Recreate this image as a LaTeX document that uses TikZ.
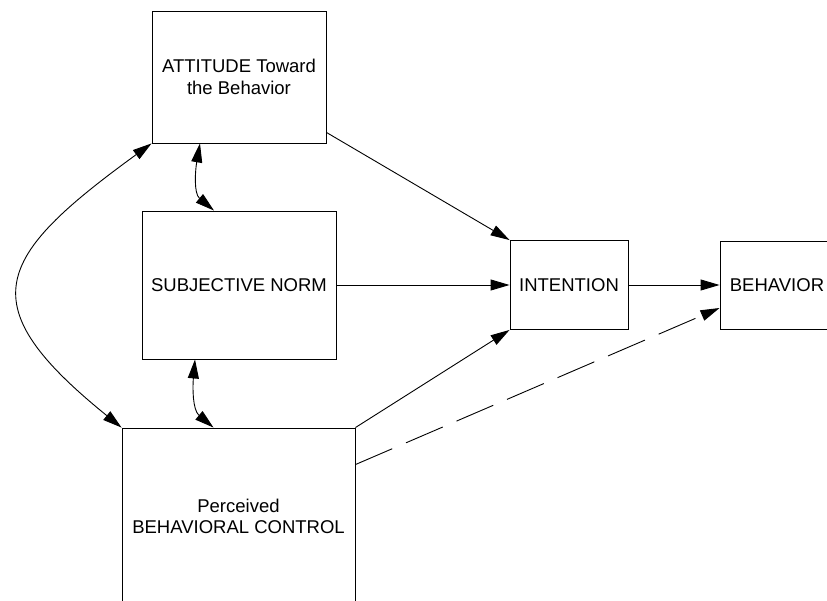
\documentclass[tikz,border=0pt]{standalone}
\usepackage{fontspec}
\setmainfont{Liberation Sans}
\usetikzlibrary{arrows.meta}

\begin{document}
\begin{tikzpicture}[x=1pt,y=1pt,>={Triangle[length=19pt,width=11pt]}]
            \useasboundingbox (0,0) rectangle (827,-601);
            \clip (0,0) rectangle (827,-601);
            \begin{scope}[every node/.style={rectangle,draw,line width=0.9pt,align=center,
                          font=\fontsize{18.5}{21.5}\selectfont}]
                \node (ATT) [minimum width=174pt, minimum height=132pt] at (239, -77) {ATTITUDE Toward\\the Behavior};
                \node (SN) [minimum width=194pt, minimum height=148pt] at (239, -285) {SUBJECTIVE NORM};
                \node (PBC) [minimum width=233pt, minimum height=177pt] at (238.5, -516.5) {Perceived\\BEHAVIORAL CONTROL};
                \node (INT) [minimum width=118pt, minimum height=89pt] at (569, -285) {INTENTION};
                \node (BEH) [minimum width=114pt, minimum height=88pt] at (777, -285) {BEHAVIOR};
            \end{scope}

            \begin{scope}[every edge/.style={draw=black,line width=0.9pt}]
                \path [->] ([yshift=11pt]ATT.south east) edge (INT.north west);
                \path [->] (SN.east) edge (INT.west);
                \path [->] (PBC.north east) edge (INT.south west);
                \path [->] (INT.east) edge (BEH.west);
                \path [->] ([yshift=-37pt]PBC.north east) edge[dash pattern=on 40pt off 15pt] ([yshift=-23pt]BEH.west);
                \path [<->] ([xshift=-39pt]ATT.south) edge[out=-100, in=140] ([xshift=-25pt]SN.north);
                \path [<->] ([xshift=-44pt]SN.south) edge[out=-95, in=140] ([xshift=-25pt]PBC.north);
                \path [<->] (ATT.south west) edge[out=216, in=141, looseness=1.75] (PBC.north west);
            \end{scope}
        \end{tikzpicture}
\end{document}
